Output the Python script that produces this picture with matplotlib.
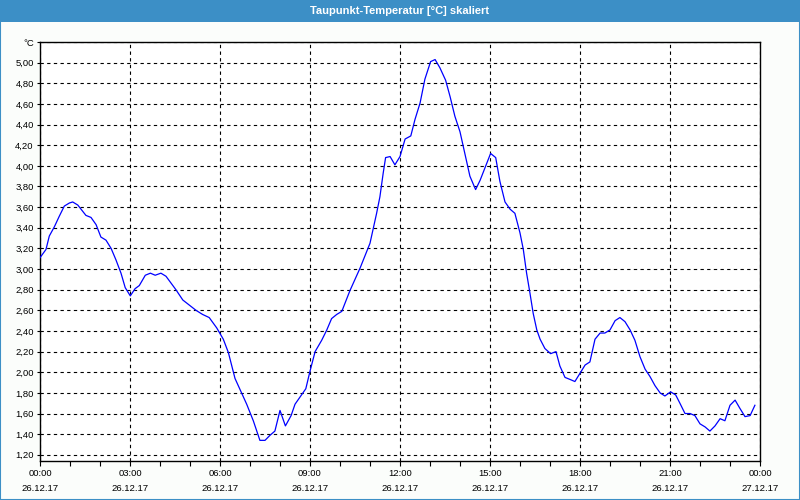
import matplotlib
matplotlib.use('Agg')
import matplotlib.pyplot as plt
from matplotlib.patches import Rectangle
import numpy as np

# time in hours since 26.12.17 00:00, dew point in degC
hours = [0.0, 0.2, 0.31, 0.48, 0.64, 0.81, 0.98, 1.09, 1.26, 1.53, 1.70, 1.87,
         2.03, 2.2, 2.37, 2.53, 2.7, 2.84, 3.01, 3.17, 3.31, 3.51, 3.68, 3.84,
         4.03, 4.2, 4.53, 4.76, 4.98, 5.2, 5.42, 5.64, 5.89, 6.11, 6.28, 6.5,
         6.67, 6.89, 7.11, 7.33, 7.5, 7.67, 7.83, 8.0, 8.18, 8.37, 8.5, 8.67,
         8.86, 9.0, 9.17, 9.39, 9.56, 9.72, 9.89, 10.06, 10.33, 10.67, 11.0,
         11.22, 11.33, 11.44, 11.52, 11.67, 11.83, 12.0, 12.17, 12.36, 12.5,
         12.67, 12.83, 13.02, 13.17, 13.33, 13.52, 13.67, 13.83, 14.0, 14.17,
         14.33, 14.52, 14.67, 14.83, 15.02, 15.19, 15.33, 15.5, 15.67, 15.83,
         16.0, 16.11, 16.22, 16.33, 16.44, 16.56, 16.67, 16.83, 17.02, 17.2,
         17.33, 17.5, 17.67, 17.83, 18.0, 18.17, 18.33, 18.5, 18.67, 18.83,
         19.0, 19.17, 19.33, 19.5, 19.67, 19.83, 20.0, 20.17, 20.33, 20.5,
         20.67, 20.83, 21.02, 21.19, 21.33, 21.5, 21.67, 21.83, 22.0, 22.17,
         22.33, 22.5, 22.67, 22.83, 23.0, 23.17, 23.33, 23.5, 23.67, 23.83]
temps = [3.11, 3.19, 3.32, 3.41, 3.51, 3.61, 3.64, 3.65, 3.62, 3.52, 3.50, 3.43,
         3.31, 3.28, 3.20, 3.09, 2.96, 2.82, 2.74, 2.81, 2.84, 2.94, 2.96, 2.94,
         2.96, 2.93, 2.80, 2.70, 2.65, 2.60, 2.56, 2.53, 2.43, 2.32, 2.19, 1.94,
         1.83, 1.69, 1.53, 1.34, 1.34, 1.39, 1.43, 1.63, 1.48, 1.58, 1.69, 1.76,
         1.84, 2.01, 2.20, 2.31, 2.41, 2.52, 2.56, 2.59, 2.79, 3.01, 3.25,
         3.54, 3.70, 3.93, 4.08, 4.09, 4.01, 4.09, 4.26, 4.29, 4.45,
         4.61, 4.84, 5.01, 5.03, 4.95, 4.83, 4.67, 4.48, 4.33, 4.11,
         3.90, 3.77, 3.86, 3.98, 4.12, 4.08, 3.85, 3.65, 3.58, 3.54,
         3.35, 3.19, 2.96, 2.77, 2.57, 2.41, 2.32, 2.23, 2.18, 2.20,
         2.06, 1.95, 1.93, 1.91, 1.99, 2.07, 2.10, 2.32, 2.38, 2.38,
         2.41, 2.50, 2.53, 2.49, 2.41, 2.31, 2.15, 2.03, 1.96, 1.87,
         1.80, 1.77, 1.81, 1.78, 1.70, 1.60, 1.60, 1.58, 1.50, 1.47,
         1.43, 1.48, 1.55, 1.53, 1.68, 1.73, 1.65, 1.57, 1.58, 1.68]

xtick_hours = [0, 3, 6, 9, 12, 15, 18, 21, 24]
xtick_times = ['00:00', '03:00', '06:00', '09:00', '12:00', '15:00', '18:00', '21:00', '00:00']
xtick_dates = ['26.12.17'] * 8 + ['27.12.17']
ytick_vals = [1.2 + 0.2 * i for i in range(21)]

blue = '#3c8fc6'
fig = plt.figure(figsize=(8, 5), dpi=100, facecolor='#fbfdfb')
plt.rcParams['font.family'] = ['Liberation Sans', 'DejaVu Sans']

# title bar and window frame
fig.patches.append(Rectangle((0, 0.956), 1, 0.044, transform=fig.transFigure,
                             facecolor=blue, edgecolor='none', zorder=0))
fig.patches.append(Rectangle((0.0006, 0.001), 0.9988, 0.998, transform=fig.transFigure,
                             facecolor='none', edgecolor=blue, lw=1.5, zorder=5))
fig.text(0.5, 0.979, 'Taupunkt-Temperatur [°C] skaliert', color='white',
         fontsize=8, fontweight='bold', ha='center', va='center')

ax = fig.add_axes([0.05, 0.078, 0.90, 0.838])
ax.set_facecolor('white')
ax.plot(hours, temps, color='#0000ff', lw=0.9, zorder=3)

ax.set_xlim(0, 24)
ax.set_ylim(1.14, 5.20)
ax.set_xticks(xtick_hours)
ax.set_xticklabels([t + '\n' + d for t, d in zip(xtick_times, xtick_dates)],
                   fontsize=6.8, linespacing=1.75)
ax.set_xticks(range(25), minor=True)
ax.set_yticks(ytick_vals)
ylabels = ['%.2f' % v for v in ytick_vals]
ylabels = [s.replace('.', ',') for s in ylabels]
ylabels[-1] = '°C'
ax.set_yticklabels(ylabels, fontsize=6.8)

ax.tick_params(axis='x', which='both', direction='out', length=3.5, width=0.8, pad=2.5)
ax.tick_params(axis='y', direction='out', length=2.5, width=0.8, pad=2)
ax.grid(True, color='black', linestyle=(0, (3, 3)), lw=0.8)
for s in ax.spines.values():
    s.set_linewidth(1.0)
    s.set_color('black')

fig.savefig('out.png', dpi=100, facecolor=fig.get_facecolor())
